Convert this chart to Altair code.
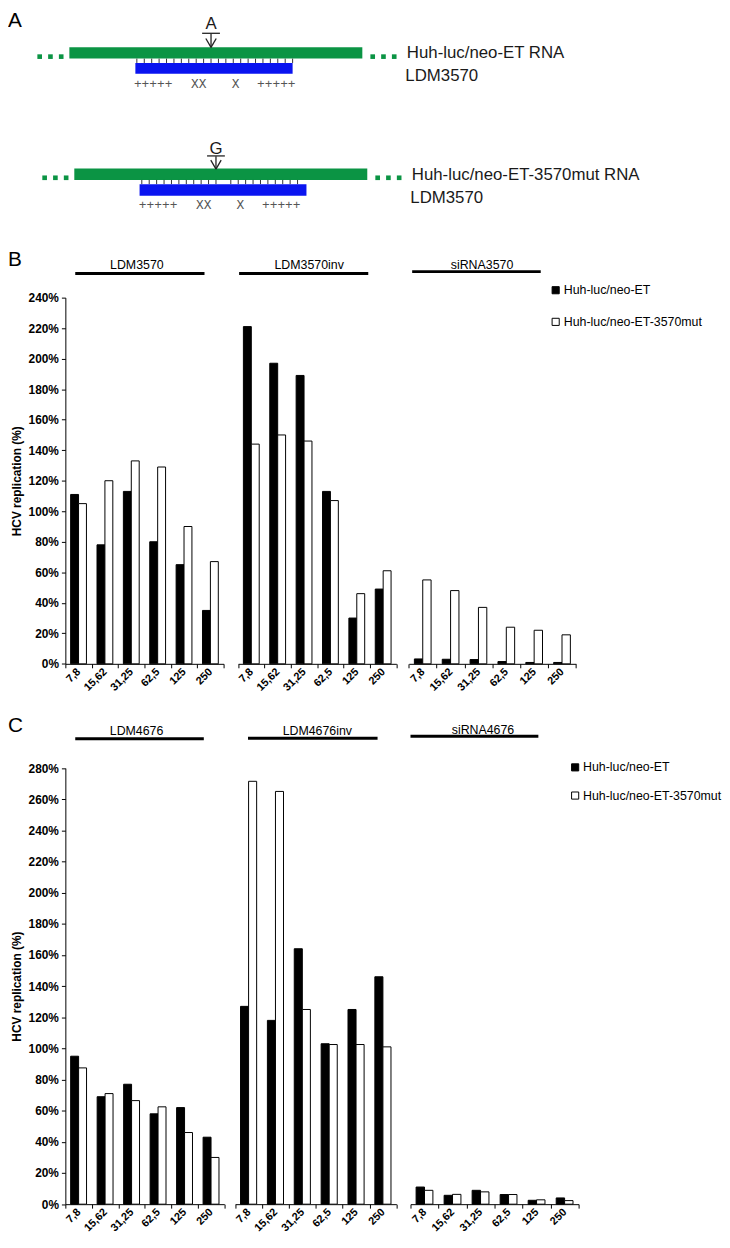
import altair as alt
import pandas as pd

# ------------------------------------------------------------------ data
concentrations = ["7,8", "15,62", "31,25", "62,5", "125", "250"]
series = ["Huh-luc/neo-ET", "Huh-luc/neo-ET-3570mut"]

b_groups = ["LDM3570", "LDM3570inv", "siRNA3570"]
b_et = [
    [111, 78, 113, 80, 65, 35],
    [221, 197, 189, 113, 30, 49],
    [3.2, 3.0, 2.8, 1.5, 0.9, 0.9],
]
b_mut = [
    [105, 120, 133, 129, 90, 67],
    [144, 150, 146, 107, 46, 61],
    [55, 48, 37, 24, 22, 19],
]

c_groups = ["LDM4676", "LDM4676inv", "siRNA4676"]
c_et = [
    [95, 69, 77, 58, 62, 43],
    [127, 118, 164, 103, 125, 146],
    [11, 5.7, 8.9, 6.2, 2.5, 4.0],
]
c_mut = [
    [87.5, 71, 66.5, 62.5, 46, 30],
    [271.5, 265, 125, 102.5, 102.5, 101],
    [8.9, 6.3, 7.9, 6.2, 2.8, 2.3],
]

b_yticks = list(range(0, 241, 20))
c_yticks = list(range(0, 281, 20))
y_title = "HCV replication (%)"

# panel A schematic, positions in nucleotides of the 22-nt target site
panel_letters = ["A", "B", "C"]
rna_names = ["Huh-luc/neo-ET RNA", "Huh-luc/neo-ET-3570mut RNA"]
ldm_name = "LDM3570"
mismatch_base = ["A", "G"]
mismatch_nt = 10
rna_span = [-9.1, 30.4]
rna_dots = [-13.1, -11.65, -10.2, 31.8, 33.25, 34.7]
ldm_spans = [[-0.2, 21.0], [-0.3, 22.2]]
paired_nt = [list(range(22)), [k for k in range(22) if k != 11]]
pairing_symbols = ["+++++", "XX", "X", "+++++"]
pairing_nt = [2.2, 8.35, 13.3, 18.8]
name_nt = [36.4, 36.2]

# ------------------------------------------------------------------ style / layout
FONT = "Liberation Sans"
MONO = "Liberation Mono"
GREEN = "#0b9444"
BLUE = "#0a14f0"
W, H = 722, 1228

DIAG = [
    dict(xrange=[130.3, 287.8], letter_y=14.7, over_y=18.7, shaft=(19, 33), head=(24, 33),
         rna=(32.7, 44.3), dots_y=42.3, ticks=(44.3, 48.7), ldm=(48.7, 59.7), sym_y=70.3,
         name_y=39, ldm_y=62),
    dict(xrange=[135.3, 292.8], letter_y=140.5, over_y=142.7, shaft=(143, 156), head=(147, 156),
         rna=(155.3, 167), dots_y=164.8, ticks=(167, 171.3), ldm=(171.3, 183), sym_y=192,
         name_y=162, ldm_y=185),
]

PANEL_B = dict(
    ydomain=[0, 240], yrange=[656.3, 286], yticks=b_yticks, xoffset=656.3 - H,
    xranges=[[58, 218], [232.7, 392.7], [405.3, 574.3]],
    headers=[dict(x0=68, x1=198.7, line_y=261.5, cx=130.3, text_y=257),
             dict(x0=233.7, x1=364.3, line_y=261.5, cx=304.5, text_y=257),
             dict(x0=408.7, x1=538.7, line_y=259.7, cx=479.3, text_y=257)],
    legend=dict(sq_x=553.8, text_x=562, rows=[278.5, 310.5]),
)
PANEL_C = dict(
    ydomain=[0, 280], yrange=[1202.7, 761.7], yticks=c_yticks, xoffset=1202.7 - H,
    xranges=[[58, 218.7], [229.7, 392.7], [407, 577]],
    headers=[dict(x0=68, x1=198, line_y=732, cx=130, text_y=728),
             dict(x0=242.7, x1=373.7, line_y=731.5, cx=312.8, text_y=728),
             dict(x0=407, x1=536.3, line_y=729.5, cx=480.3, text_y=727)],
    legend=dict(sq_x=573.5, text_x=581.5, rows=[761, 789.5]),
)
LETTER_Y = [12, 254, 725]


# ------------------------------------------------------------------ builders
def diagram(i):
    d = DIAG[i]
    xs = alt.Scale(domain=[0, 21], range=d["xrange"], nice=False, zero=False)

    def X(f):
        return alt.X(f, type="quantitative", scale=xs, axis=None)

    layers = []
    layers.append(
        alt.Chart(pd.DataFrame({"s": [rna_span[0]], "e": [rna_span[1]]}))
        .mark_rect(color=GREEN)
        .encode(x=X("s"), x2="e", y=alt.value(d["rna"][0]), y2=alt.value(d["rna"][1]))
    )
    layers.append(
        alt.Chart(pd.DataFrame({"nt": rna_dots}))
        .mark_square(size=22, color=GREEN, opacity=1)
        .encode(x=X("nt"), y=alt.value(d["dots_y"]))
    )
    layers.append(
        alt.Chart(pd.DataFrame({"nt": paired_nt[i]}))
        .mark_rule(color="#333333", strokeWidth=1)
        .encode(x=X("nt"), y=alt.value(d["ticks"][0]), y2=alt.value(d["ticks"][1]))
    )
    layers.append(
        alt.Chart(pd.DataFrame({"s": [ldm_spans[i][0]], "e": [ldm_spans[i][1]]}))
        .mark_rect(color=BLUE)
        .encode(x=X("s"), x2="e", y=alt.value(d["ldm"][0]), y2=alt.value(d["ldm"][1]))
    )
    # arrow marking the mismatch position
    layers.append(
        alt.Chart(pd.DataFrame({"nt": [mismatch_nt]}))
        .mark_rule(color="#222222", strokeWidth=1.3)
        .encode(x=X("nt"), y=alt.value(d["shaft"][0]), y2=alt.value(d["shaft"][1]))
    )
    layers.append(
        alt.Chart(pd.DataFrame({"s": [mismatch_nt - 0.7, mismatch_nt + 0.7],
                                "e": [mismatch_nt, mismatch_nt]}))
        .mark_rule(color="#222222", strokeWidth=1.3)
        .encode(x=X("s"), x2="e", y=alt.value(d["head"][0]), y2=alt.value(d["head"][1]))
    )
    layers.append(
        alt.Chart(pd.DataFrame({"s": [mismatch_nt - 1.2], "e": [mismatch_nt + 1.2]}))
        .mark_rule(color="#222222", strokeWidth=1.3)
        .encode(x=X("s"), x2="e", y=alt.value(d["over_y"]))
    )
    layers.append(
        alt.Chart(pd.DataFrame({"nt": [mismatch_nt], "base": [mismatch_base[i]]}))
        .mark_text(font=FONT, fontSize=17, color="#1a1a1a", align="center", baseline="alphabetic")
        .encode(x=X("nt"), y=alt.value(d["letter_y"]), text="base:N")
    )
    layers.append(
        alt.Chart(pd.DataFrame({"nt": pairing_nt, "sym": pairing_symbols}))
        .mark_text(font=MONO, fontSize=13, color="#555555", align="center", baseline="middle")
        .encode(x=X("nt"), y=alt.value(d["sym_y"]), text="sym:N")
    )
    layers.append(
        alt.Chart(pd.DataFrame({"nt": [name_nt[0]], "name": [rna_names[i]]}))
        .mark_text(font=FONT, fontSize=17, color="#1a1a1a", align="left", baseline="middle")
        .encode(x=X("nt"), y=alt.value(d["name_y"]), text="name:N")
    )
    layers.append(
        alt.Chart(pd.DataFrame({"nt": [name_nt[1]], "name": [ldm_name]}))
        .mark_text(font=FONT, fontSize=17, color="#1a1a1a", align="left", baseline="middle")
        .encode(x=X("nt"), y=alt.value(d["ldm_y"]), text="name:N")
    )
    return alt.layer(*layers)


def bar_group(P, k, name, et, mut):
    df = pd.DataFrame({
        "conc": concentrations * 2,
        "series": [series[0]] * 6 + [series[1]] * 6,
        "value": list(et) + list(mut),
    })
    ys = alt.Scale(domain=P["ydomain"], range=P["yrange"], nice=False, zero=True)
    xs = alt.Scale(domain=concentrations, range=P["xranges"][k], paddingInner=0, paddingOuter=0)
    if k == 0:
        yaxis = alt.Axis(
            values=P["yticks"], orient="left", offset=-58, labelExpr="datum.value + '%'",
            title=y_title, titleFont=FONT, titleFontSize=12, titleFontWeight="bold",
            titleColor="black", titlePadding=5, labelFont=FONT, labelFontSize=12,
            labelFontWeight="bold", labelColor="black", domainColor="black", tickColor="black",
            tickSize=4, labelPadding=3, grid=False,
        )
    else:
        yaxis = None
    xaxis = alt.Axis(
        title=None, orient="bottom", offset=P["xoffset"], tickBand="extent", labelAngle=315,
        labelAlign="right", labelBaseline="middle", labelFont=FONT, labelFontSize=11,
        labelFontWeight="bold", labelColor="black", domainColor="black", tickColor="black",
        tickSize=4, labelPadding=2, grid=False, labelOverlap=False,
    )
    bars = alt.Chart(df).mark_bar(stroke="black", strokeWidth=1, opacity=1).encode(
        x=alt.X("conc:N", sort=concentrations, scale=xs, axis=xaxis),
        xOffset=alt.XOffset("series:N", sort=series,
                            scale=alt.Scale(domain=series, paddingInner=0, paddingOuter=0.667)),
        y=alt.Y("value:Q", scale=ys, axis=yaxis),
        fill=alt.Fill("series:N", scale=alt.Scale(domain=series, range=["black", "white"]),
                      legend=None),
    )
    h = P["headers"][k]
    hdr = pd.DataFrame({"name": [name]})
    line = alt.Chart(hdr).mark_rule(color="black", strokeWidth=3).encode(
        x=alt.value(h["x0"]), x2=alt.value(h["x1"]), y=alt.value(h["line_y"]))
    text = alt.Chart(hdr).mark_text(font=FONT, fontSize=12.5, color="black", align="center",
                                    baseline="alphabetic").encode(
        x=alt.value(h["cx"]), y=alt.value(h["text_y"]), text="name:N")
    return alt.layer(bars, line, text)


def legend(P):
    L = P["legend"]
    src = alt.Chart(pd.DataFrame({"series": series}))
    ys = alt.Scale(type="point", domain=series, range=L["rows"], padding=0)
    sq = src.mark_square(size=52, stroke="black", strokeWidth=1, opacity=1).encode(
        x=alt.value(L["sq_x"]),
        y=alt.Y("series:N", scale=ys, axis=None),
        fill=alt.Fill("series:N", scale=alt.Scale(domain=series, range=["black", "white"]),
                      legend=None),
    )
    tx = src.mark_text(font=FONT, fontSize=12.5, color="black", align="left",
                       baseline="middle").encode(
        x=alt.value(L["text_x"]), y=alt.Y("series:N", scale=ys, axis=None), text="series:N")
    return alt.layer(sq, tx)


layers = [diagram(0), diagram(1)]
for k in range(3):
    layers.append(bar_group(PANEL_B, k, b_groups[k], b_et[k], b_mut[k]))
for k in range(3):
    layers.append(bar_group(PANEL_C, k, c_groups[k], c_et[k], c_mut[k]))
layers.append(legend(PANEL_B))
layers.append(legend(PANEL_C))
for i, letter in enumerate(panel_letters):
    layers.append(
        alt.Chart(pd.DataFrame({"letter": [letter]}))
        .mark_text(font=FONT, fontSize=21, color="black", align="left", baseline="alphabetic")
        .encode(x=alt.value(0), y=alt.value(LETTER_Y[i]), text="letter:N")
    )

chart = (
    alt.layer(*layers)
    .resolve_scale(x="independent", y="independent", xOffset="independent", fill="independent")
    .properties(width=W, height=H, padding=0, autosize=alt.AutoSizeParams(type="none"))
    .configure_view(stroke=None)
)

chart.save("out.html", embed_options={"renderer": "svg", "actions": False})
